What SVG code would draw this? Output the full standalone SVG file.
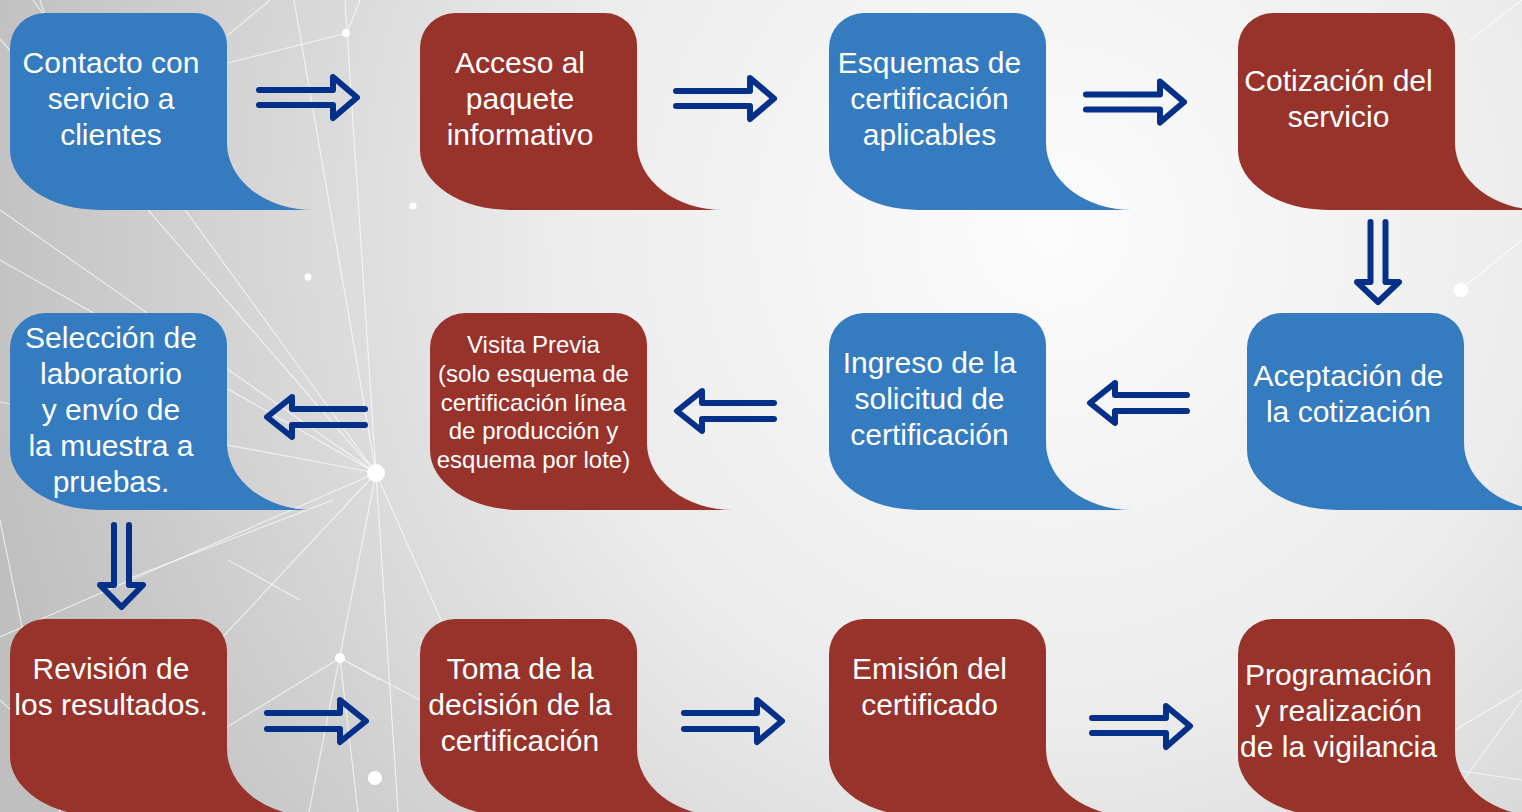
<svg xmlns="http://www.w3.org/2000/svg" xmlns:xlink="http://www.w3.org/1999/xlink" width="1522" height="812" viewBox="0 0 1522 812">
<style>
.blue{fill:#357BC0}
.red{fill:#98332C}
text{font-family:"Liberation Sans",Arial,sans-serif;font-size:30px;fill:#ffffff;text-anchor:middle}
text.small{font-size:24px}
.arrow{fill:none;stroke:#05308A;stroke-width:6;stroke-linecap:round;stroke-linejoin:round}
.net{stroke:#ffffff;stroke-width:1.2;opacity:0.65;fill:none}
.dot{fill:#ffffff}
</style>
<defs>
<radialGradient id="bg" gradientUnits="userSpaceOnUse" cx="1050" cy="230" r="1100">
<stop offset="0" stop-color="#fcfcfc"/>
<stop offset="0.45" stop-color="#ececec"/>
<stop offset="1" stop-color="#bfbfbf"/>
</radialGradient>
<path id="shape" d="M35,0 H185 A32,32 0 0 1 217,32 V130 A86,67 0 0 0 303,197 H90 A90,60 0 0 1 0,137 V35 A35,35 0 0 1 35,0 Z"/>
</defs>
<rect x="0" y="0" width="1522" height="812" fill="url(#bg)"/>
<g id="background-network">
<path class="net" d="M376,473 L0,210 M376,473 L0,260 M376,473 L294,0 M376,473 L345,0 M376,473 L0,402 M376,473 L0,637 M376,473 L309,812 M376,473 L398,812 M376,473 L526,812 M376,473 L59,812 M376,473 L33,0 M376,473 L0,39"/>
<path class="net" d="M228,63 L347,33 L360,0 M228,35 L270,0 M40,0 L110,210 M0,520 L60,812 M340,658 L227,727 M340,658 L380,680 M340,658 L358,812 M340,658 L420,700 M130,578 L333,500 M0,700 L120,812 M228,560 L300,600 M1455,730 L1522,690 M1455,770 L1522,780 M1470,40 L1522,0 M1440,812 L1522,700 M1460,290 L1522,240"/>
<circle class="dot" cx="346" cy="33" r="4"/>
<circle class="dot" cx="413" cy="206" r="3.5"/>
<circle class="dot" cx="308" cy="277" r="3.5"/>
<circle class="dot" cx="1461" cy="290" r="7"/>
<circle class="dot" cx="376" cy="473" r="9"/>
<circle class="dot" cx="340" cy="658" r="5"/>
<circle class="dot" cx="375" cy="778" r="7"/>
</g>
<g id="connectors">
<path class="arrow" d="M259,90 H333 V77 L357,97.5 L333,118 V105 H259"/>
<path class="arrow" d="M676,91 H750 V78 L774,98.5 L750,119 V106 H676"/>
<path class="arrow" d="M1086,94.5 H1160 V81.5 L1184,102 L1160,122.5 V109.5 H1086"/>
<path class="arrow" d="M1370.5,222 V282 H1357 L1378,302 L1399,282 H1385.5 V222"/>
<path class="arrow" d="M1187,395 H1115 V383 L1090,403 L1115,423 V411 H1187"/>
<path class="arrow" d="M774,403 H702 V391 L677,411 L702,431 V419 H774"/>
<path class="arrow" d="M365,409 H292 V397 L267,417 L292,437 V425 H365"/>
<path class="arrow" d="M114,525 V585 H100 L121.5,607 L143,585 H129 V525"/>
<path class="arrow" d="M267,713 H340 V700 L366,721 L340,742 V729 H267"/>
<path class="arrow" d="M684,713 H757 V700 L782,721 L757,742 V729 H684"/>
<path class="arrow" d="M1092,718 H1166 V706 L1190,726 L1166,747 V733 H1092"/>
</g>
<g id="n1" transform="translate(10,13)">
<use xlink:href="#shape" class="blue"/>
<text x="101" y="60">Contacto con</text>
<text x="101" y="96">servicio a</text>
<text x="101" y="132">clientes</text>
</g>
<g id="n2" transform="translate(420,13)">
<use xlink:href="#shape" class="red"/>
<text x="100" y="60">Acceso al</text>
<text x="100" y="96">paquete</text>
<text x="100" y="132">informativo</text>
</g>
<g id="n3" transform="translate(829,13)">
<use xlink:href="#shape" class="blue"/>
<text x="100.5" y="60">Esquemas de</text>
<text x="100.5" y="96">certificación</text>
<text x="100.5" y="132">aplicables</text>
</g>
<g id="n4" transform="translate(1238,13)">
<use xlink:href="#shape" class="red"/>
<text x="100.5" y="77.5">Cotización del</text>
<text x="100.5" y="113.5">servicio</text>
</g>
<g id="n5" transform="translate(1247,313)">
<use xlink:href="#shape" class="blue"/>
<text x="101.5" y="72.5">Aceptación de</text>
<text x="101.5" y="108.5">la cotización</text>
</g>
<g id="n6" transform="translate(829,313)">
<use xlink:href="#shape" class="blue"/>
<text x="100.5" y="60">Ingreso de la</text>
<text x="100.5" y="96">solicitud de</text>
<text x="100.5" y="132">certificación</text>
</g>
<g id="n7" transform="translate(430,313)">
<use xlink:href="#shape" class="red"/>
<text class="small" x="103.5" y="40">Visita Previa</text>
<text class="small" x="103.5" y="68.8">(solo esquema de</text>
<text class="small" x="103.5" y="97.5">certificación línea</text>
<text class="small" x="103.5" y="126.3">de producción y</text>
<text class="small" x="103.5" y="155">esquema por lote)</text>
</g>
<g id="n8" transform="translate(10,313)">
<use xlink:href="#shape" class="blue"/>
<text x="101" y="34.5">Selección de</text>
<text x="101" y="70.5">laboratorio</text>
<text x="101" y="106.5">y envío de</text>
<text x="101" y="142.5">la muestra a</text>
<text x="101" y="178.5">pruebas.</text>
</g>
<g id="n9" transform="translate(10,619)">
<use xlink:href="#shape" class="red"/>
<text x="101" y="60">Revisión de</text>
<text x="101" y="95.5">los resultados.</text>
</g>
<g id="n10" transform="translate(420,619)">
<use xlink:href="#shape" class="red"/>
<text x="100" y="60">Toma de la</text>
<text x="100" y="96">decisión de la</text>
<text x="100" y="132">certificación</text>
</g>
<g id="n11" transform="translate(829,619)">
<use xlink:href="#shape" class="red"/>
<text x="100.5" y="60">Emisión del</text>
<text x="100.5" y="96">certificado</text>
</g>
<g id="n12" transform="translate(1238,619)">
<use xlink:href="#shape" class="red"/>
<text x="100.5" y="65.5">Programación</text>
<text x="100.5" y="101.5">y realización</text>
<text x="100.5" y="137.5">de la vigilancia</text>
</g>
</svg>
